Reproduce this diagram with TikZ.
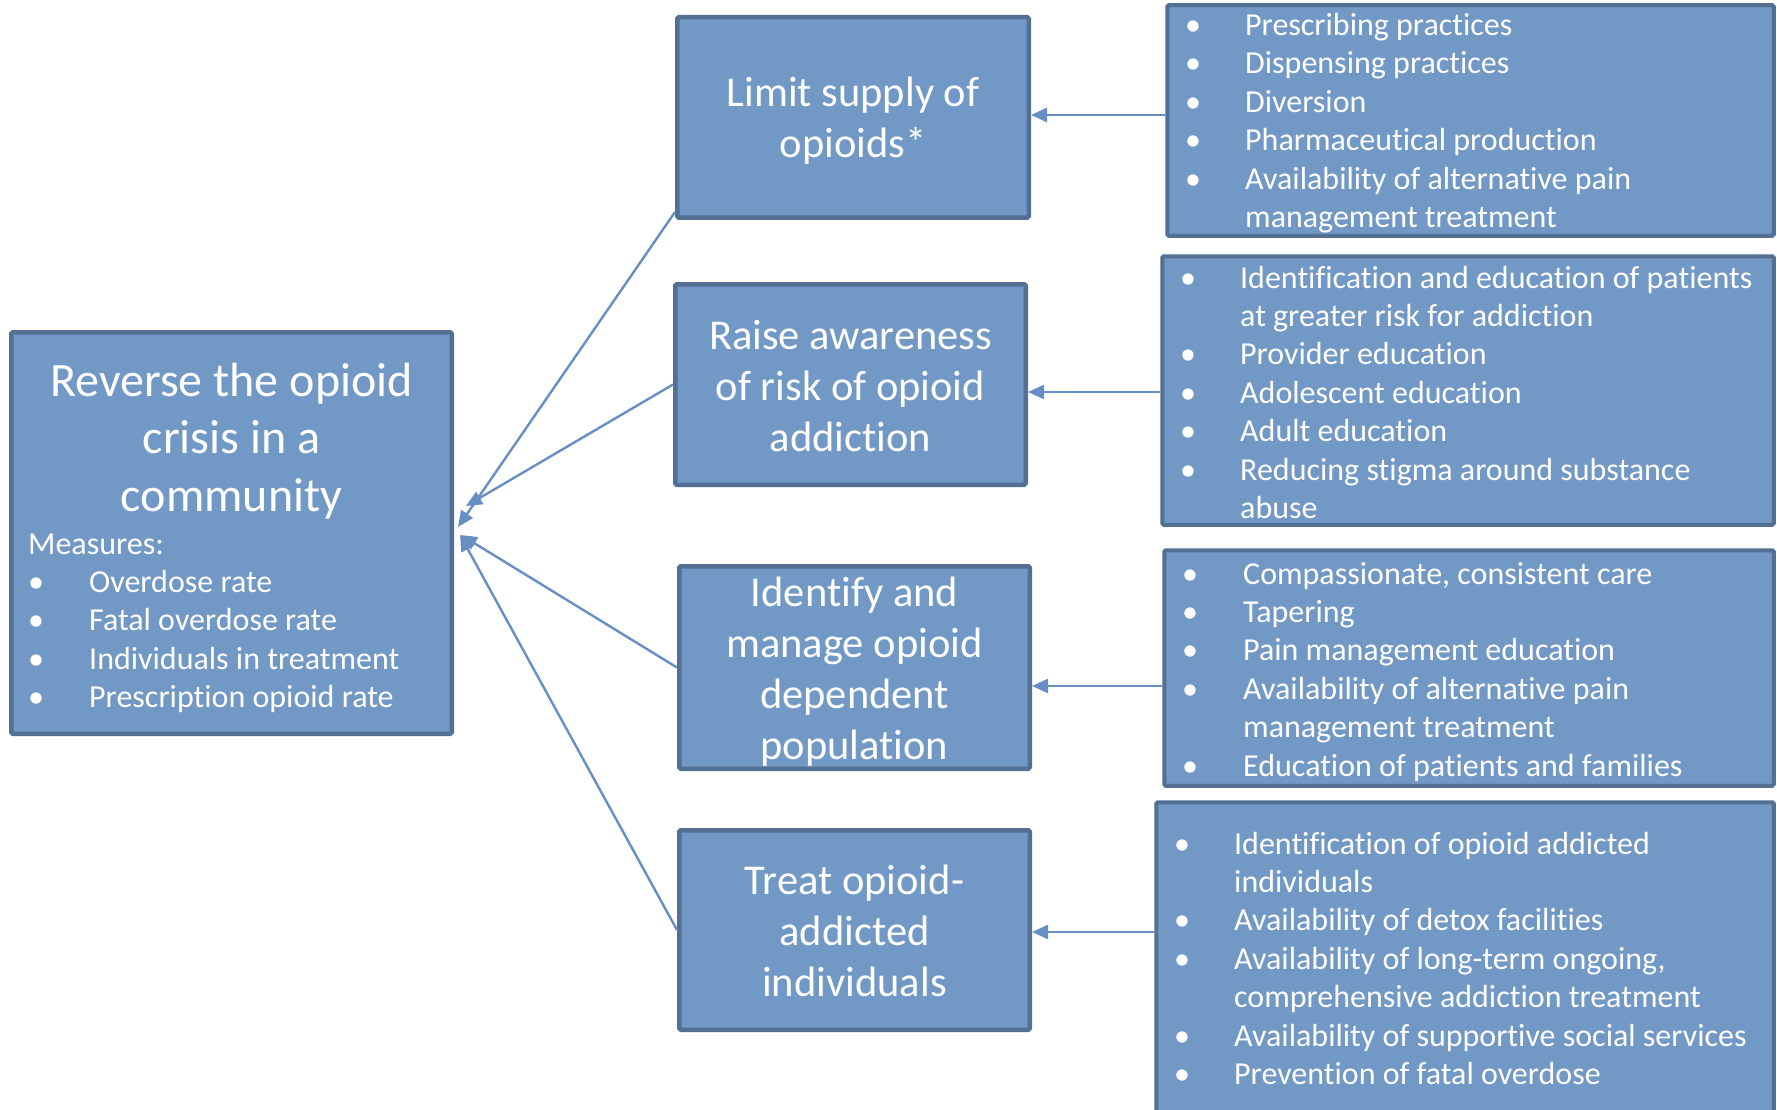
\documentclass[tikz,border=0pt]{standalone}
\usepackage{fontspec}
\setmainfont{Carlito}[Ligatures=NoCommon]
\usetikzlibrary{arrows.meta,calc}
\definecolor{boxfill}{RGB}{114,152,198}
\definecolor{boxline}{RGB}{83,111,148}
\definecolor{arrowc}{RGB}{104,143,196}
\newcommand{\blt}[2]{\makebox[#1][l]{\textbullet}#2}
\newcommand{\contline}[2]{\hspace*{#1}#2}
\begin{document}
\begin{tikzpicture}[x=1pt,y=-1pt,
  box/.style={draw=boxline, fill=boxfill, line width=4.5pt, rounded corners=1.5pt, inner sep=0pt},
  rbox/.style={box, line width=4pt},
  title/.style={text=white, inner sep=0pt, anchor=base, font=\fontsize{42.5}{51}\selectfont},
  listtxt/.style={text=white, inner sep=0pt, anchor=base west, font=\fontsize{32}{38.4}\selectfont},
  arr/.style={draw=arrowc, line width=2.4pt, -{Triangle[length=16pt,width=14pt]}}]
\useasboundingbox (0,0) rectangle (1777,1110);
\clip (0,0) rectangle (1777,1110);

% main box
\node[box, minimum width=440.5pt, minimum height=401.5pt] (main) at (231.5,533) {};
\node[text=white, inner sep=0pt, anchor=base, font=\fontsize{48}{57.5}\selectfont] (maint) at (231.5,396)
  {\parbox[t]{430pt}{\centering Reverse the opioid\\crisis in a\\community}};
\node[listtxt] (meas) at (28,554) {\parbox[t]{420pt}{\raggedright
  Measures:\\
  \blt{61pt}{Overdose rate}\\
  \blt{61pt}{Fatal overdose rate}\\
  \blt{61pt}{Individuals in treatment}\\
  \blt{61pt}{Prescription opioid rate}}};

% middle boxes
\node[box, minimum width=351.5pt, minimum height=200.5pt] (m1) at (853,117.5) {};
\node[box, minimum width=350.5pt, minimum height=200.5pt] (m2) at (850.5,384.5) {};
\node[box, minimum width=350.5pt, minimum height=202.5pt] (m3) at (854.5,667.5) {};
\node[box, minimum width=350.5pt, minimum height=199.5pt] (m4) at (854.5,930) {};

\node[title] (m1t) at (853,107) {\parbox[t]{340pt}{\centering Limit supply of\\opioids*}};
\node[title] (m2t) at (850.5,349) {\parbox[t]{340pt}{\centering Raise awareness\\of risk of opioid\\addiction}};
\node[title] (m3t) at (854.5,606) {\parbox[t]{340pt}{\centering Identify and\\manage opioid\\dependent\\population}};
\node[title] (m4t) at (854.5,894) {\parbox[t]{340pt}{\centering Treat opioid-\\addicted\\individuals}};

% right boxes
\node[rbox, minimum width=606.5pt, minimum height=230.5pt] (r1) at (1470.5,120.5) {};
\node[rbox, minimum width=611.5pt, minimum height=268.5pt] (r2) at (1468,390.5) {};
\node[rbox, minimum width=609.5pt, minimum height=235.5pt] (r3) at (1469,668) {};
\node[rbox, minimum width=617.5pt, minimum height=320.5pt] (r4) at (1465,962.5) {};

\node[listtxt] (r1t) at (1185,35.5) {\parbox[t]{580pt}{\raggedright
  \blt{60pt}{Prescribing practices}\\
  \blt{60pt}{Dispensing practices}\\
  \blt{60pt}{Diversion}\\
  \blt{60pt}{Pharmaceutical production}\\
  \blt{60pt}{Availability of alternative pain}\\
  \contline{60pt}{management treatment}}};

\node[listtxt] (r2t) at (1180,288) {\parbox[t]{590pt}{\raggedright
  \blt{60pt}{Identification and education of patients}\\
  \contline{60pt}{at greater risk for addiction}\\
  \blt{60pt}{Provider education}\\
  \blt{60pt}{Adolescent education}\\
  \blt{60pt}{Adult education}\\
  \blt{60pt}{Reducing stigma around substance}\\
  \contline{60pt}{abuse}}};

\node[listtxt] (r3t) at (1182,584) {\parbox[t]{590pt}{\raggedright
  \blt{61pt}{Compassionate, consistent care}\\
  \blt{61pt}{Tapering}\\
  \blt{61pt}{Pain management education}\\
  \blt{61pt}{Availability of alternative pain}\\
  \contline{61pt}{management treatment}\\
  \blt{61pt}{Education of patients and families}}};

\node[listtxt] (r4t) at (1174,854) {\parbox[t]{600pt}{\raggedright
  \blt{60pt}{Identification of opioid addicted}\\
  \contline{60pt}{individuals}\\
  \blt{60pt}{Availability of detox facilities}\\
  \blt{60pt}{Availability of long-term ongoing,}\\
  \contline{60pt}{comprehensive addiction treatment}\\
  \blt{60pt}{Availability of supportive social services}\\
  \blt{60pt}{Prevention of fatal overdose}}};

% horizontal connectors
\coordinate (y1) at (0,115);
\coordinate (y2) at (0,392);
\coordinate (y3) at (0,686);
\coordinate (y4) at (0,932);
\draw[arr] (r1.west |- y1) -- (m1.east |- y1);
\draw[arr] (r2.west |- y2) -- (m2.east |- y2);
\draw[arr] (r3.west |- y3) -- (m3.east |- y3);
\draw[arr] (r4.west |- y4) -- (m4.east |- y4);

% diagonal connectors
\coordinate (tL) at (458,527);
\coordinate (tR) at (466,506);
\coordinate (tI) at (461,535);
\coordinate (tT) at (460,535);
\draw[arr] ($(m1.south west)+(0,-8)$) -- (tL);
\draw[arr] (m2.west) -- (tR);
\draw[arr] (m3.west) -- (tI);
\draw[arr] (m4.west) -- (tT);
\end{tikzpicture}
\end{document}
